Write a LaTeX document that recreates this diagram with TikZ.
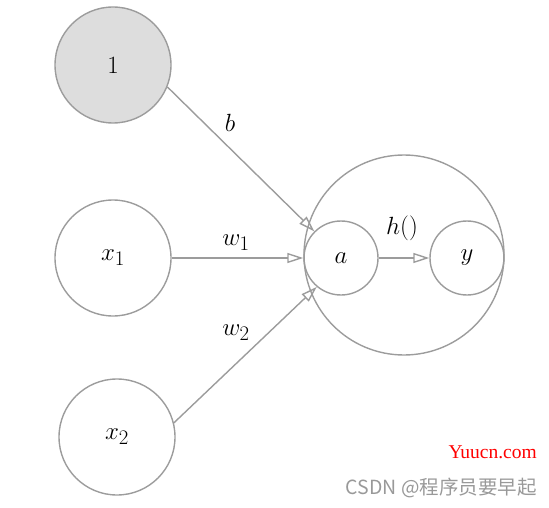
\documentclass[tikz,border=0pt]{standalone}
\usepackage{fontspec}
\newfontfamily\cjkfont{Noto Sans CJK SC}
\newfontfamily\wmserif{Liberation Serif}
\usetikzlibrary{arrows.meta}
\definecolor{edgegray}{HTML}{9C9C9C}
\definecolor{fillgray}{HTML}{DDDDDD}
\definecolor{wmred}{HTML}{FF0000}
\definecolor{wmgray}{HTML}{999999}
\tikzset{
  neuron/.style={circle, draw=edgegray, line width=1.4pt, inner sep=0pt, font=\fontsize{28}{30}\selectfont},
  conn/.style={draw=edgegray, line width=1.4pt, -{Triangle[open, length=16pt, width=10pt]}},
  lbl/.style={font=\fontsize{28}{30}\selectfont, inner sep=0pt},
}
\begin{document}
\begin{tikzpicture}[x=1pt, y=-1pt]
\useasboundingbox (0,0) rectangle (549,508);
\node[neuron, fill=fillgray, minimum size=116pt] (one) at (113,65) {$1$};
\node[neuron, minimum size=116pt] (x1) at (113,258) {$x_1$};
\node[neuron, minimum size=116pt] (x2) at (117,437) {$x_2$};
\node[neuron, minimum size=200pt] (big) at (404,255) {};
\node[neuron, minimum size=74pt] (a) at (341,258) {$a$};
\node[neuron, minimum size=74pt] (y) at (467,258) {$y$};
\draw[conn] (one.-22) -- (a.135);
\draw[conn] (x1.east) -- (a.west);
\draw[conn] (x2.14) -- (a.230);
\draw[conn] (a.east) -- (y.west);
\node[lbl] (lb) at (230,123) {$b$};
\node[lbl] (lw1) at (236,243) {$w_1$};
\node[lbl] (lw2) at (236,333) {$w_2$};
\node[lbl] (lh) at (402,228) {$h()$};
\node[anchor=east, inner sep=0pt, text=wmred, font=\wmserif\fontsize{19.5}{22}\selectfont] (wm1) at (537,452) {Yuucn.com};
\node[anchor=east, inner sep=0pt, text=wmgray, font=\cjkfont\fontsize{19.5}{22}\selectfont] (wm2) at (537,488) {CSDN @程序员要早起};
\end{tikzpicture}
\end{document}
